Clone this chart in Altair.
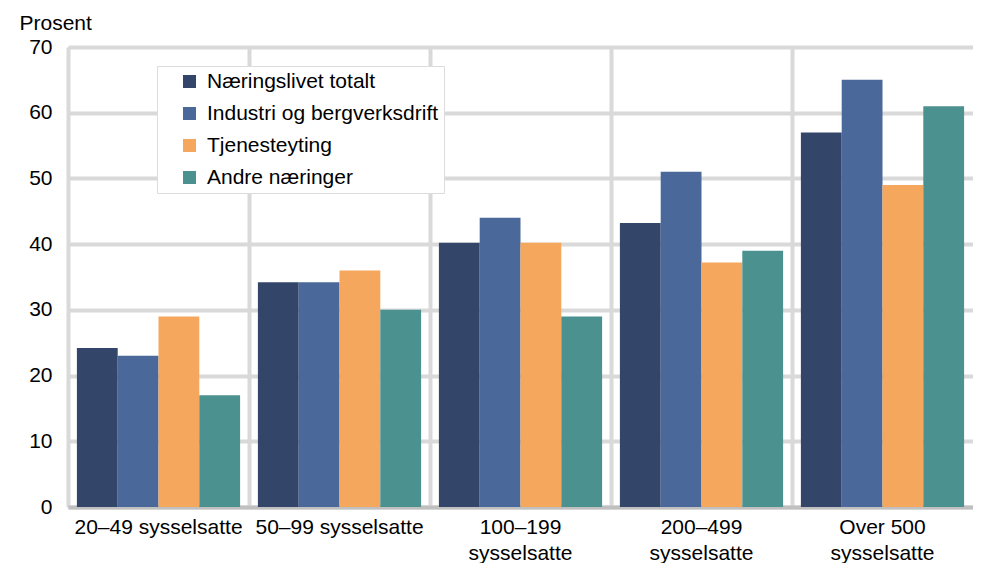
import altair as alt
import pandas as pd

categories = ["20–49 sysselsatte", "50–99 sysselsatte", "100–199 sysselsatte",
              "200–499 sysselsatte", "Over 500 sysselsatte"]
series = ["Næringslivet totalt", "Industri og bergverksdrift", "Tjenesteyting", "Andre næringer"]
naeringslivet_totalt = [24.2, 34.2, 40.2, 43.2, 57]
industri = [23, 34.2, 44, 51, 65]
tjenesteyting = [29, 36, 40.2, 37.2, 49]
andre = [17, 30, 29, 39, 61]
colors = ["#33466A", "#4A6899", "#F5A85D", "#4A918F"]
y_ticks = [0, 10, 20, 30, 40, 50, 60, 70]

values = [naeringslivet_totalt, industri, tjenesteyting, andre]
rows = []
for s, vals in zip(series, values):
    for c, v in zip(categories, vals):
        rows.append({"Gruppe": c, "Serie": s, "Prosent": v})
df = pd.DataFrame(rows)

FONT = "Liberation Sans"
FS = 21
GRID = "#d9d9d9"
NBSP = "\u00a0"

label_expr = ("indexof(datum.value, '20–') == 0 || indexof(datum.value, '50–') == 0 ? datum.value : "
              "[slice(datum.value, 0, lastindexof(datum.value, ' ')), "
              "slice(datum.value, lastindexof(datum.value, ' ') + 1)]")

chart = alt.Chart(df).mark_bar(strokeWidth=0).encode(
    x=alt.X("Gruppe:N", sort=categories,
            scale=alt.Scale(paddingInner=0, paddingOuter=0),
            axis=alt.Axis(title=None, labelAngle=0, labelFontSize=FS, labelFont=FONT,
                          labelColor="#000000", labelPadding=9, labelLineHeight=26,
                          labelExpr=label_expr, labelLimit=400, labelBaseline="top",
                          ticks=False, grid=True, bandPosition=0,
                          gridColor=GRID, gridWidth=4,
                          domainColor="#c0c0c0", domainWidth=4)),
    xOffset=alt.XOffset("Serie:N", sort=series,
                        scale=alt.Scale(paddingInner=0, paddingOuter=0.218)),
    y=alt.Y("Prosent:Q", scale=alt.Scale(domain=[0, 70], nice=False),
            axis=alt.Axis(values=y_ticks, title="Prosent", titleAngle=0, titleAlign="left",
                          titleBaseline="alphabetic", titleX=-49, titleY=-18,
                          titleFontSize=FS, titleFont=FONT, titleFontWeight="normal",
                          titleColor="#000000",
                          labelFontSize=FS, labelFont=FONT, labelColor="#000000",
                          labelPadding=16, ticks=False, tickSize=0, domain=False,
                          grid=True, gridColor=GRID, gridWidth=4)),
    color=alt.Color("Serie:N", sort=series,
                    scale=alt.Scale(domain=series, range=colors),
                    legend=alt.Legend(title=None, orient="none", legendX=89, legendY=19,
                                      fillColor="#ffffff", strokeColor="#dcdcdc",
                                      padding=5, symbolOffset=17,
                                      symbolType="square", symbolSize=169,
                                      symbolStrokeWidth=0, labelFontSize=FS, labelFont=FONT,
                                      labelColor="#000000", labelOffset=7, rowPadding=10,
                                      labelExpr="datum.label + '" + NBSP * 2 + "'",
                                      labelLimit=400)),
).properties(
    width=905, height=460,
    autosize=alt.AutoSizeParams(type="none"),
    padding={"left": 60, "top": 39, "right": 0, "bottom": 56},
).configure_view(stroke=None).configure_legend(strokeWidth=2).configure(background="#ffffff")

chart.save("out.html", embed_options={"renderer": "svg", "actions": False})
